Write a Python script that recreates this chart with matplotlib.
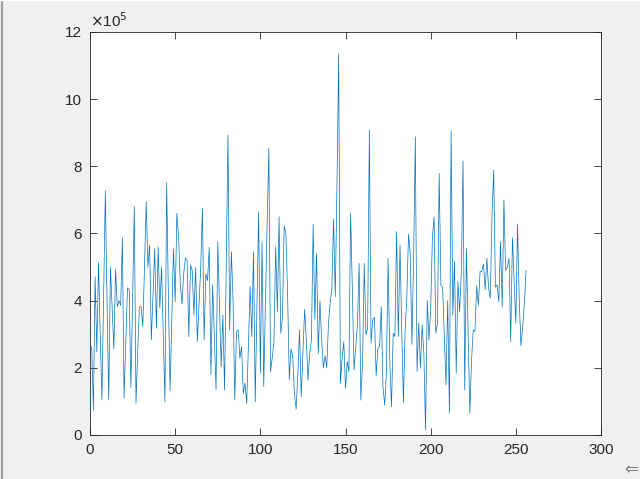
import numpy as np
import matplotlib
matplotlib.use('Agg')
import matplotlib.pyplot as plt
from matplotlib.ticker import FuncFormatter

# values, in units of 1e5 (sample 1..256)
vals = [2.63, 0.74, 4.71, 2.48, 5.13, 3.0, 1.04, 4.2, 7.27, 4.0,
        1.04, 5.0, 3.8, 2.56, 4.94, 3.82, 4.0, 3.86, 5.87, 1.1,
        2.7, 4.38, 4.33, 1.4, 4.0, 6.8, 0.94, 2.5, 3.82, 3.82,
        3.23, 5.0, 6.95, 5.0, 5.66, 2.83, 4.2, 5.54, 3.18, 5.6,
        3.78, 5.01, 3.0, 0.99, 7.51, 4.2, 1.31, 3.4, 5.55, 3.97,
        6.6, 5.9, 4.5, 3.9, 4.8, 5.27, 5.2, 2.93, 5.06, 4.9,
        3.57, 4.99, 2.78, 3.9, 4.99, 6.75, 2.83, 4.8, 4.6, 5.59,
        1.79, 4.47, 2.9, 1.36, 5.76, 3.9, 2.03, 3.57, 1.34, 5.1,
        8.93, 3.13, 5.46, 4.0, 1.04, 3.08, 3.13, 2.28, 2.63, 1.24,
        1.54, 0.94, 2.7, 4.42, 2.93, 5.46, 0.99, 3.8, 6.65, 1.84,
        5.76, 1.44, 4.0, 6.3, 8.54, 1.89, 2.3, 2.78, 5.6, 3.67,
        6.5, 3.03, 3.5, 6.23, 6.0, 4.2, 1.66, 2.56, 2.36, 1.24,
        0.77, 1.77, 3.13, 1.14, 2.48, 3.74, 2.83, 1.64, 2.43, 2.83,
        6.27, 3.45, 5.41, 2.43, 4.0, 2.83, 2.0, 2.36, 2.0, 3.33,
        3.93, 4.37, 6.43, 4.12, 7.5, 11.35, 1.54, 2.28, 2.78, 1.39,
        2.19, 1.89, 6.6, 4.4, 1.94, 2.63, 3.28, 5.11, 1.04, 2.13,
        5.11, 2.98, 3.18, 9.08, 2.73, 3.45, 3.5, 1.77, 2.56, 2.63,
        3.82, 1.44, 0.89, 1.84, 5.26, 2.23, 0.84, 3.03, 2.93, 6.06,
        2.93, 5.66, 3.13, 0.96, 3.13, 4.1, 5.98, 5.41, 2.7, 5.3,
        8.88, 1.89, 3.33, 2.0, 3.28, 2.43, 0.15, 4.0, 2.83, 3.72,
        5.87, 6.5, 3.03, 3.33, 7.79, 4.47, 4.4, 3.0, 1.49, 4.0,
        0.65, 9.06, 3.57, 5.16, 1.84, 4.57, 3.67, 4.9, 8.16, 1.34,
        5.55, 3.0, 0.65, 2.23, 3.13, 3.08, 4.44, 3.86, 4.87, 4.87,
        5.09, 4.33, 5.26, 4.37, 4.07, 6.5, 7.89, 4.4, 4.47, 3.97,
        5.76, 3.82, 7.0, 4.9, 5.0, 5.26, 2.78, 5.87, 4.6, 3.33,
        6.28, 4.0, 2.66, 3.2, 3.9, 4.9]

y = np.array(vals) * 1e5
x = np.arange(1, len(y) + 1)

xticks = [0, 50, 100, 150, 200, 250, 300]
yticks = [0, 2, 4, 6, 8, 10, 12]

plt.rcParams['font.family'] = 'Liberation Sans'
dark = '#262626'

fig = plt.figure(figsize=[6.4, 4.79], dpi=100, facecolor='#f0f0f0')
ax = fig.add_axes([90/640, 44/479, 511/640, 403/479])
ax.plot(x, y, color='#0072BD', lw=0.5)

ax.set_xlim(0, 300)
ax.set_ylim(0, 12e5)
ax.set_xticks(xticks)
ax.set_yticks([t * 1e5 for t in yticks])
ax.yaxis.set_major_formatter(FuncFormatter(lambda v, p: '%d' % round(v / 1e5)))
ax.tick_params(direction='in', length=5, width=0.6, colors=dark,
               labelsize=11, top=True, right=True, pad=6)
for s in ax.spines.values():
    s.set_color(dark)
    s.set_linewidth(0.6)

ax.text(0.0, 1.005, r'$\times$10$^5$', transform=ax.transAxes,
        fontsize=11, color=dark, ha='left', va='bottom')

# window frame edge on the left and the arrow glyph in the corner
fig.add_artist(plt.Line2D([0.0035, 0.0035], [0, 1], color='#a0a0a0', lw=1.5,
                          transform=fig.transFigure))
fig.add_artist(plt.Line2D([0, 1], [0.999, 0.999], color='#ffffff', lw=1,
                          transform=fig.transFigure))
fig.text(638/640, 1 - 469/479, '\u21d0', fontsize=12, color='#808080',
         ha='right', va='center', family='DejaVu Sans')

fig.savefig('out.png', dpi=100, facecolor=fig.get_facecolor())
